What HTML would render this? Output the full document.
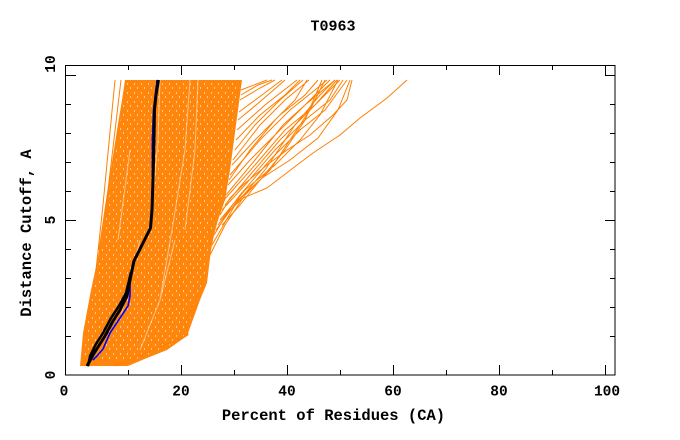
<!DOCTYPE html>
<html><head><meta charset="utf-8"><style>
html,body{margin:0;padding:0;background:#fff;}
svg{display:block;}
text{font-family:"Liberation Mono","Courier New",monospace;font-weight:bold;fill:#000;}
</style></head><body>
<svg width="680" height="440" viewBox="0 0 680 440" xmlns="http://www.w3.org/2000/svg">
<defs>
<pattern id="tex" x="0" y="2" width="7" height="9" patternUnits="userSpaceOnUse">
<rect x="1" y="0" width="1" height="2" fill="#fff"/>
<rect x="4" y="4" width="1" height="2" fill="#fff"/>
</pattern>
</defs>
<rect x="0" y="0" width="680" height="440" fill="#fff"/>
<text x="333" y="30.5" font-size="15" text-anchor="middle">T0963</text>
<polygon fill="#ff8000" fill-opacity="0.95" points="80,366 83,333 91,290 97,262 101,240 106,205 110,175 117,130 122,100 125,80 242,80 238,110 234,140 230,170 225,200 218,220 214,235 211,250 207,283 200,300 191,325 187,336 167,350 147,358 128,366"/>
<polygon fill="url(#tex)" fill-opacity="0.55" points="84,360 86,333 93,290 99,262 103,240 108,205 112,175 119,130 124,100 127,82 238,82 235,110 231,140 227,170 222,200 215,220 211,235 208,250 204,283 197,300 188,325 184,336 165,348 145,356 126,362"/>
<path fill="none" stroke="#fff" stroke-width="1" stroke-opacity="0.5" d="M160 80L158 140L150 230M190 80L185 150L172 230L160 300M198 80L195 150L185 230M140 240L120 320M175 240L160 300L140 350M130 150L118 240"/>
<path fill="none" stroke="#ff8000" stroke-width="1" d="M96 270L103 205L115 80M99 250L108 190L121 80M115 366L188 335L185 322L197 295M214 235L228 212L243 198L267 188L297 165L313 153L340 135L360 118L387 98L407 80M220 215L230 198L243 185L267 165L287 150L310 135L333 115L347 100L352 80M218 225L240 195L270 160L300 130L325 110L347 80M222 210L245 185L275 150L305 120L330 100L343 80"/>
<path fill="none" stroke="#ff8000" stroke-width="1" d="M225 205L250 175L280 140L310 110L340 80M224 200L255 165L285 130L315 105L337 80M226 195L255 160L283 125L305 105L335 80M228 185L250 160L270 140L300 110L318 92L330 80M230 175L260 140L290 110L315 90L327 80M222 225L240 205L260 180L285 150L305 120L322 80"/>
<path fill="none" stroke="#ff8000" stroke-width="1" d="M232 165L255 140L280 115L305 95L318 80M233 160L260 125L285 100L309 80M229 180L250 150L275 120L295 100L307 80M235 150L255 125L280 100L303 80M236 140L260 115L285 95L300 80M237 130L265 105L297 80M238 120L262 100L285 80M239 112L262 95L282 80M240 100L260 88L275 80M241 95L258 85L272 80M241 90L267 80"/>
<path fill="none" stroke="#ff8000" stroke-width="1" d="M210 255L225 225L245 195L270 170L290 140L310 110L325 80M212 245L235 205L265 170L295 125L320 95L335 80M216 230L238 200L262 178L290 160L318 138L338 110L350 80M220 220L245 190L275 165L300 140L320 115L338 80"/>
<polyline fill="none" stroke="#0000ff" stroke-width="1.6" points="93,360 97,356 103,349 110,333 120,318 128,306 130,296 130,280 132,268 135,258 140,248 150,230 152,210 152.3,180 152.3,140 153.5,110 157,80"/>
<polyline fill="none" stroke="#000" stroke-width="3" stroke-linejoin="round" points="158.5,80 156,95 154.5,110 154,140 153,180 152,210 150.5,228 141,247 134,261 131,275 127,296 120,310 113,321 105,336 98,347 93,355 87,366"/>
<polyline fill="none" stroke="#000" stroke-width="2.5" points="131,272 126,293 119,306 111,318 103,333 96,344 90,356 88,366"/>
<rect x="65.5" y="65.5" width="549.5" height="309.5" fill="none" stroke="#000" stroke-width="1"/>
<path fill="none" stroke="#000" stroke-width="1" d="M65 75.5H76M65 104.5H71M65 133.5H71M65 162.5H71M65 191.5H71M65 220.5H76M65 249.5H71M65 278.5H71M65 307.5H71M65 336.5H71"/>
<path fill="none" stroke="#000" stroke-width="1" d="M615 75.5H605M615 104.5H610M615 133.5H610M615 162.5H610M615 191.5H610M615 220.5H605M615 249.5H610M615 278.5H610M615 307.5H610M615 336.5H610"/>
<path fill="none" stroke="#000" stroke-width="1" d="M128.5 375V370M181.5 375V365M234.5 375V370M287.5 375V365M340.5 375V370M393.5 375V365M446.5 375V370M499.5 375V365M552.5 375V370M605.5 375V365"/>
<path fill="none" stroke="#000" stroke-width="1" d="M128.5 65V70M181.5 65V75M234.5 65V70M287.5 65V75M340.5 65V70M393.5 65V75M446.5 65V70M499.5 65V75M552.5 65V70M605.5 65V75"/>
<g font-size="14.5" text-anchor="middle">
<text x="64" y="395.5">0</text>
<text x="181" y="395.5">20</text>
<text x="287" y="395.5">40</text>
<text x="393" y="395.5">60</text>
<text x="499" y="395.5">80</text>
<text x="607" y="395.5">100</text>
<text transform="translate(55,64) rotate(-90)">10</text>
<text transform="translate(55,220) rotate(-90)">5</text>
<text transform="translate(55,375) rotate(-90)">0</text>
</g>
<text x="333.5" y="420" font-size="15.5" text-anchor="middle">Percent of Residues (CA)</text>
<text transform="translate(31,233) rotate(-90)" font-size="15.5" text-anchor="middle">Distance Cutoff, A</text>
</svg>
</body></html>
